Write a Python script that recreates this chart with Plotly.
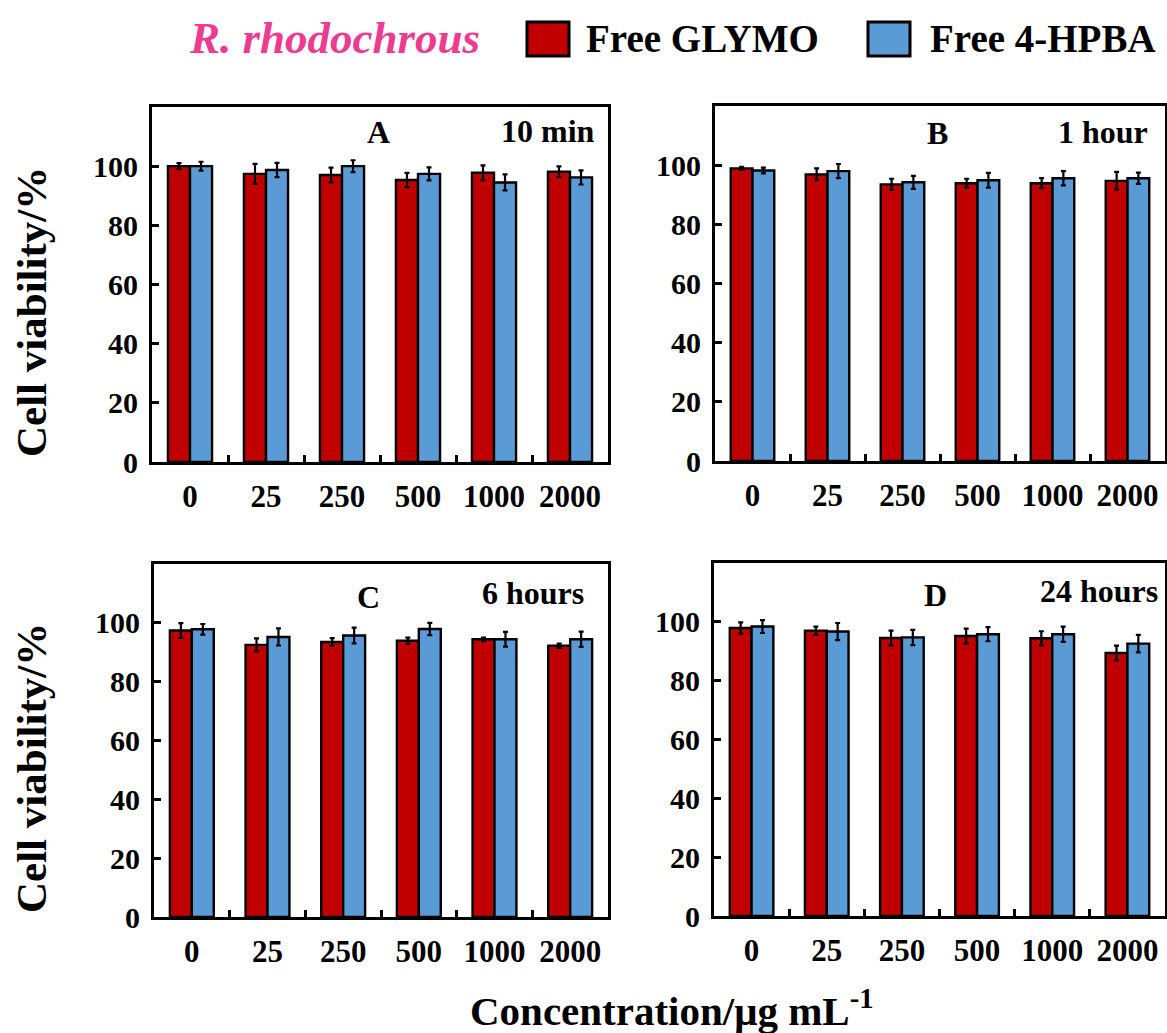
import plotly.graph_objects as go

W, H = 1167, 1033

concentrations = ["0", "25", "250", "500", "1000", "2000"]
series_names = ["Free GLYMO", "Free 4-HPBA"]

# Cell viability (%) of R. rhodochrous at each exposure time
glymo_10min = [100.0, 97.4, 97.0, 95.3, 97.8, 98.1]
glymo_10min_err = [1.0, 3.4, 2.5, 2.4, 2.5, 1.8]
hpba_10min = [100.0, 98.7, 100.0, 97.4, 94.5, 96.2]
hpba_10min_err = [1.5, 2.4, 2.0, 2.2, 2.7, 2.4]

glymo_1h = [98.9, 96.9, 93.5, 93.9, 93.9, 94.7]
glymo_1h_err = [0.5, 2.0, 1.9, 1.5, 1.7, 3.0]
hpba_1h = [98.2, 98.0, 94.2, 94.9, 95.6, 95.6]
hpba_1h_err = [1.0, 2.4, 2.2, 2.5, 2.4, 1.9]

glymo_6h = [97.4, 92.5, 93.5, 93.9, 94.4, 92.2]
glymo_6h_err = [2.5, 2.2, 1.3, 1.1, 0.6, 0.7]
hpba_6h = [97.8, 95.2, 95.7, 97.9, 94.4, 94.4]
hpba_6h_err = [1.8, 2.9, 2.7, 2.1, 2.5, 2.6]

glymo_24h = [97.9, 97.0, 94.5, 95.2, 94.4, 89.4]
glymo_24h_err = [1.9, 1.4, 2.5, 2.5, 2.4, 2.5]
hpba_24h = [98.4, 96.7, 94.7, 95.8, 95.8, 92.6]
hpba_24h_err = [2.2, 2.9, 2.6, 2.4, 2.6, 3.0]

y_ticks = [0, 20, 40, 60, 80, 100]

panels = [
    ("A", "10 min", glymo_10min, glymo_10min_err, hpba_10min, hpba_10min_err),
    ("B", "1 hour", glymo_1h, glymo_1h_err, hpba_1h, hpba_1h_err),
    ("C", "6 hours", glymo_6h, glymo_6h_err, hpba_6h, hpba_6h_err),
    ("D", "24 hours", glymo_24h, glymo_24h_err, hpba_24h, hpba_24h_err),
]

RED = "#C00000"
BLUE = "#5B9BD5"
PINK = "#EE3A91"
SERIF = "Liberation Serif"


def xp(px):
    return px / W


def yp(py):
    return 1 - py / H


# plot boxes in pixels: (left, right, top, bottom)
boxes = [
    (152, 608, 107, 462),
    (715, 1165, 106, 461),
    (154, 608, 564, 917),
    (714, 1165, 563, 916),
]
# panel letter centre x, letter y, time label right x, time label y
label_pos = [
    (378, 132, 597, 131),
    (937, 133, 1150, 132),
    (368, 597, 586, 593),
    (935, 595, 1160, 591),
]

fig = go.Figure()
layout = {}
annotations = []

for i, (letter, period, g, ge, h, he) in enumerate(panels):
    n = "" if i == 0 else str(i + 1)
    xa, ya = "x" + n, "y" + n
    for name, vals, errs, color in ((series_names[0], g, ge, RED),
                                    (series_names[1], h, he, BLUE)):
        fig.add_trace(go.Bar(
            x=concentrations, y=vals, name=name, xaxis=xa, yaxis=ya,
            marker=dict(color=color, line=dict(color="black", width=2.4)),
            error_y=dict(type="data", array=errs, visible=True,
                         color="black", thickness=2.2, width=2.5),
            showlegend=False,
        ))
    l, r, t, b = boxes[i]
    tickfont = dict(family=SERIF, size=31, color="black", weight="bold")
    layout["xaxis" + n] = dict(
        domain=[xp(l), xp(r)], anchor=ya, type="category",
        range=[-0.5, 5.5], tickson="boundaries", ticks="inside",
        ticklen=7, tickwidth=3, tickcolor="black",
        showline=True, mirror=True, linewidth=3, linecolor="black",
        showgrid=False, zeroline=False, tickfont=tickfont,
        ticklabelstandoff=5, automargin=False,
    )
    layout["yaxis" + n] = dict(
        domain=[yp(b), yp(t)], anchor=xa, range=[0, 120],
        tickvals=y_ticks, ticks="inside", ticklen=7, tickwidth=3,
        tickcolor="black", showline=True, mirror=True, linewidth=3,
        linecolor="black", showgrid=False, zeroline=False,
        tickfont=dict(family=SERIF, size=30, color="black", weight="bold"),
        ticklabelstandoff=5, automargin=False,
    )
    lx, ly, tx, ty = label_pos[i]
    annotations.append(dict(
        text=letter, x=xp(lx), y=yp(ly), xref="paper", yref="paper",
        xanchor="center", yanchor="middle", showarrow=False,
        font=dict(family=SERIF, size=32, color="black", weight="bold")))
    annotations.append(dict(
        text=period, x=xp(tx), y=yp(ty), xref="paper", yref="paper",
        xanchor="right", yanchor="middle", showarrow=False,
        font=dict(family=SERIF, size=32, color="black", weight="bold")))

# y-axis titles for each row
for cy in (312, 768):
    annotations.append(dict(
        text="Cell viability/%", x=xp(31), y=yp(cy), xref="paper",
        yref="paper", xanchor="center", yanchor="middle", textangle=-90,
        showarrow=False,
        font=dict(family=SERIF, size=43, color="black", weight="bold")))

# shared x-axis title
annotations.append(dict(
    text="Concentration/μg mL<sup>-1</sup>", x=xp(672), y=yp(1008),
    xref="paper", yref="paper", xanchor="center", yanchor="middle",
    showarrow=False,
    font=dict(family=SERIF, size=41, color="black", weight="bold")))

# legend header and entries
annotations.append(dict(
    text="<i>R. rhodochrous</i>", x=xp(187), y=yp(38), xref="paper",
    yref="paper", xanchor="left", yanchor="middle", showarrow=False,
    font=dict(family=SERIF, size=45, color=PINK, weight="bold")))
shapes = []
for (x0, x1, tx), name, color in (((527, 569, 584), series_names[0], RED),
                                  ((868, 910, 928), series_names[1], BLUE)):
    shapes.append(dict(type="rect", xref="paper", yref="paper",
                       x0=xp(x0), x1=xp(x1), y0=yp(56), y1=yp(22),
                       fillcolor=color, line=dict(color="black", width=3)))
    annotations.append(dict(
        text=name, x=xp(tx), y=yp(39), xref="paper", yref="paper",
        xanchor="left", yanchor="middle", showarrow=False,
        font=dict(family=SERIF, size=39, color="black", weight="bold")))

fig.update_layout(
    width=W, height=H, margin=dict(l=0, r=0, t=0, b=0, pad=0),
    paper_bgcolor="white", plot_bgcolor="white",
    barmode="group", bargap=0.42, bargroupgap=0,
    annotations=annotations, shapes=shapes, **layout,
)

fig.write_html("out.html")
